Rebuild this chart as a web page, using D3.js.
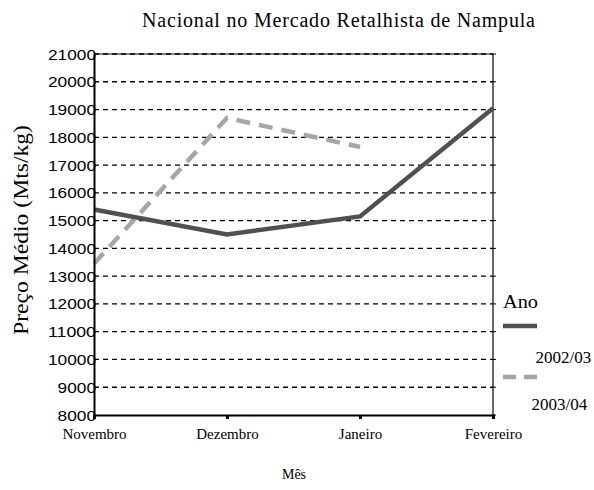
<!DOCTYPE html>
<html><head><meta charset="utf-8">
<script src="https://cdn.jsdelivr.net/npm/d3@7"></script>
<style>body{margin:0;background:#fff}svg{display:block}
.serif{font-family:"Liberation Serif","Times New Roman",serif}
.sans{font-family:"Liberation Sans",Arial,sans-serif}</style>
</head><body><svg id="c" width="594" height="490"></svg>
<script>
const months = ["Novembro","Dezembro","Janeiro","Fevereiro"];
const s2002 = [15400,14500,15150,19050];
const s2003 = [13450,18700,17650,null];
const seriesNames = ["2002/03","2003/04"];
const yTicks = [8000,9000,10000,11000,12000,13000,14000,15000,16000,17000,18000,19000,20000,21000];
const title = "Nacional no Mercado Retalhista de Nampula";
const yTitle = "Preço Médio (Mts/kg)";
const xTitle = "Mês";
const legendTitle = "Ano";

const svg = d3.select("#c");
const L=94,R=493,T=54,B=415;
const x = d3.scalePoint().domain(months).range([L,R]).padding(0);
const y = d3.scaleLinear().domain([8000,21000]).range([B,T]);

// gridlines
svg.append("g").selectAll("line").data(yTicks.filter(v=>v>8000)).join("line")
  .attr("x1",L).attr("x2",R).attr("y1",d=>y(d)).attr("y2",d=>y(d))
  .attr("stroke","#000").attr("stroke-width",1.3).attr("stroke-dasharray","5,4");

// frame
svg.append("line").attr("x1",L).attr("x2",R).attr("y1",T).attr("y2",T).attr("stroke","#000").attr("stroke-width",1);
svg.append("line").attr("x1",R).attr("x2",R).attr("y1",T).attr("y2",B).attr("stroke","#000").attr("stroke-width",1.2);

// right ticks
svg.append("g").selectAll("line").data(yTicks).join("line")
  .attr("x1",R).attr("x2",R+3).attr("y1",d=>y(d)).attr("y2",d=>y(d)).attr("stroke","#000");

const line = d3.line().defined(d=>d.v!=null).x(d=>x(d.m)).y(d=>y(d.v));
const d1 = months.map((m,i)=>({m,v:s2002[i]}));
const d2 = months.map((m,i)=>({m,v:s2003[i]}));
svg.append("path").datum(d2).attr("d",line).attr("fill","none").attr("stroke","#a6a6a6").attr("stroke-width",4.5).attr("stroke-dasharray","14,9");
svg.append("path").datum(d1).attr("d",line).attr("fill","none").attr("stroke","#505050").attr("stroke-width",4.5);

// left axis
const yAxis = svg.append("g").attr("transform",`translate(${L},0)`)
  .call(d3.axisLeft(y).tickValues(yTicks).tickFormat(d3.format("d")).tickSize(0).tickPadding(-2));
yAxis.attr("font-family",null).attr("font-size",null);
yAxis.select(".domain").attr("stroke","#000").attr("stroke-width",2);
yAxis.selectAll("text").attr("class","sans").attr("font-size",14).attr("fill","#000").attr("dy","0.36em")
  .attr("textLength",d=>String(d).length*9.6).attr("lengthAdjust","spacingAndGlyphs");

// bottom axis
const xAxis = svg.append("g").attr("transform",`translate(0,${B})`)
  .call(d3.axisBottom(x).tickSize(4).tickPadding(9));
xAxis.attr("font-family",null).attr("font-size",null);
xAxis.select(".domain").attr("stroke","#000").attr("stroke-width",2);
xAxis.selectAll(".tick line").attr("stroke","#000").attr("stroke-width",3);
xAxis.selectAll("text").attr("class","serif").attr("font-size",15).attr("fill","#000");

// titles
svg.append("text").attr("class","serif").attr("x",338.5).attr("y",27).attr("text-anchor","middle")
  .attr("font-size",20).attr("textLength",393).text(title);
svg.append("text").attr("class","serif").attr("transform","translate(28,230) rotate(-90)").attr("text-anchor","middle")
  .attr("font-size",20).attr("textLength",210).attr("lengthAdjust","spacingAndGlyphs").text(yTitle);
svg.append("text").attr("class","serif").attr("x",294).attr("y",479).attr("text-anchor","middle")
  .attr("font-size",14).text(xTitle);

// legend
const lg = svg.append("g");
lg.append("text").attr("class","serif").attr("x",503).attr("y",308).attr("font-size",18)
  .attr("textLength",35).attr("lengthAdjust","spacingAndGlyphs").text(legendTitle);
lg.append("line").attr("x1",503).attr("x2",537).attr("y1",326).attr("y2",326).attr("stroke","#505050").attr("stroke-width",4.5);
lg.append("text").attr("class","serif").attr("x",535.5).attr("y",363).attr("font-size",17).text(seriesNames[0]);
lg.append("line").attr("x1",503).attr("x2",537).attr("y1",377).attr("y2",377).attr("stroke","#a6a6a6").attr("stroke-width",4.5).attr("stroke-dasharray","13,8");
lg.append("text").attr("class","serif").attr("x",531.5).attr("y",410).attr("font-size",17).text(seriesNames[1]);
</script></body></html>
